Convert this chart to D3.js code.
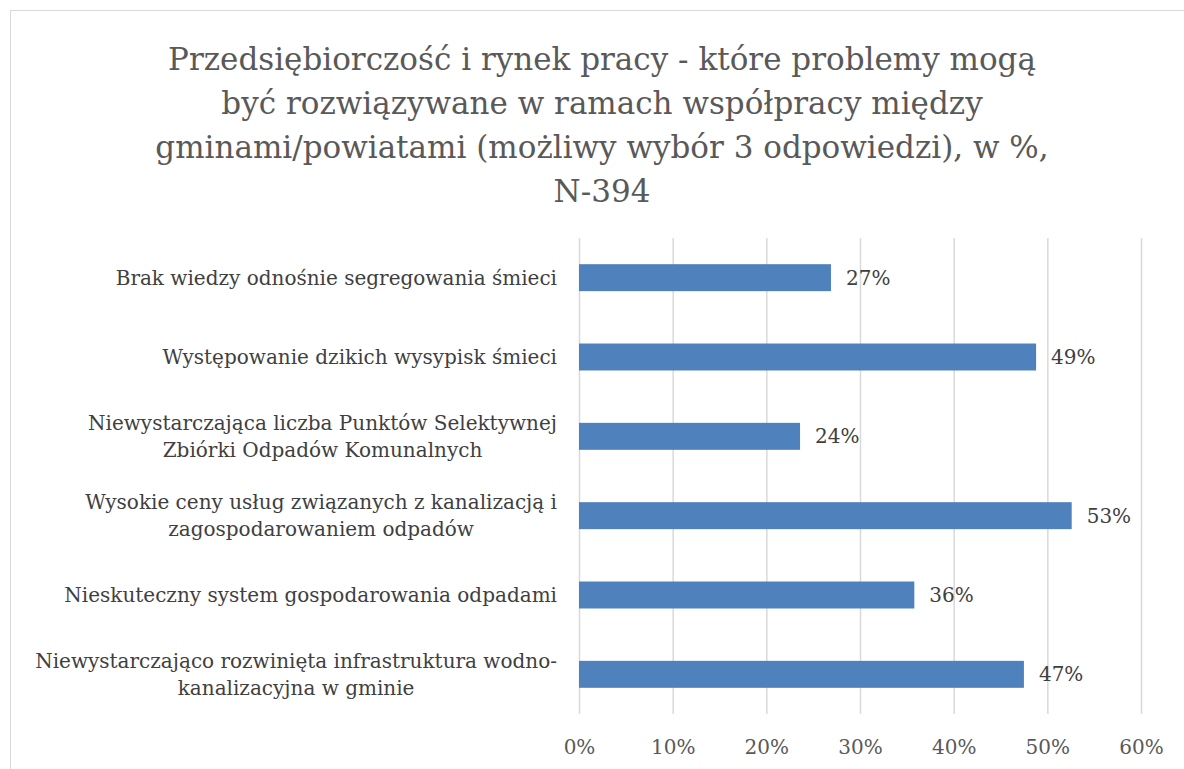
<!DOCTYPE html>
<html>
<head>
<meta charset="utf-8">
<script src="https://cdn.jsdelivr.net/npm/d3@7"></script>
<style>
  body { margin: 0; background: #fff; }
  svg { display: block; }
  text { font-family: "DejaVu Serif", serif; }
</style>
</head>
<body>
<div id="chart"></div>
<script>
// DATA
var categories = [
  ["Brak wiedzy odnośnie segregowania śmieci"],
  ["Występowanie dzikich wysypisk śmieci"],
  ["Niewystarczająca liczba Punktów Selektywnej", "Zbiórki Odpadów Komunalnych"],
  ["Wysokie ceny usług związanych z kanalizacją i", "zagospodarowaniem odpadów"],
  ["Nieskuteczny system gospodarowania odpadami"],
  ["Niewystarczająco rozwinięta infrastruktura wodno-", "kanalizacyjna w gminie"]
];
var values = [26.9, 48.8, 23.6, 52.6, 35.8, 47.5];
var valueLabels = ["27%", "49%", "24%", "53%", "36%", "47%"];
var xTicks = [0, 10, 20, 30, 40, 50, 60];
var titleLines = [
  "Przedsiębiorczość i rynek pracy - które problemy mogą",
  "być rozwiązywane w ramach współpracy między",
  "gminami/powiatami (możliwy wybór 3 odpowiedzi), w %,",
  "N-394"
];

// SET UP CHART
var svgWidth = 1184;
var svgHeight = 769;
var margin = { top: 238, right: 43, bottom: 55, left: 579 };
var chartWidth = svgWidth - margin.left - margin.right;
var chartHeight = svgHeight - margin.top - margin.bottom;

var svg = d3.select("#chart")
  .append("svg")
  .attr("width", svgWidth)
  .attr("height", svgHeight);

// chart area border
svg.append("rect")
  .attr("x", 10.5)
  .attr("y", 10.5)
  .attr("width", svgWidth)
  .attr("height", svgHeight)
  .attr("fill", "none")
  .attr("stroke", "#d9d9d9");

// TITLE
svg.append("g").selectAll("text")
  .data(titleLines)
  .enter()
  .append("text")
  .attr("x", 602)
  .attr("y", (d, i) => 70 + i * 44)
  .attr("text-anchor", "middle")
  .attr("fill", "#595959")
  .style("font-size", "31px")
  .text(d => d);

var chartGroup = svg.append("g")
  .attr("transform", `translate(${margin.left}, ${margin.top})`);

// SCALES
var xScale = d3.scaleLinear()
  .domain([0, 60])
  .range([0, chartWidth]);

var yScale = d3.scaleBand()
  .domain(d3.range(categories.length))
  .range([0, chartHeight])
  .paddingInner(0.66)
  .paddingOuter(0.33);

// GRIDLINES
var xAxis = d3.axisBottom(xScale)
  .tickValues(xTicks)
  .tickSize(-chartHeight)
  .tickFormat(d => d + "%");

var xAxisGroup = chartGroup.append("g")
  .attr("transform", `translate(0, ${chartHeight})`)
  .call(xAxis);

xAxisGroup.select(".domain").remove();
xAxisGroup.selectAll(".tick line")
  .attr("stroke", "#d9d9d9")
  .attr("stroke-width", 1.5);
xAxisGroup.selectAll(".tick text")
  .attr("fill", "#595959")
  .attr("y", 26)
  .style("font-size", "20px");

// BARS
chartGroup.selectAll("rect.bar")
  .data(values)
  .enter()
  .append("rect")
  .attr("class", "bar")
  .attr("x", xScale(0))
  .attr("y", (d, i) => yScale(i))
  .attr("width", d => xScale(d) - xScale(0))
  .attr("height", yScale.bandwidth())
  .attr("fill", "#4f81bd");

// VALUE LABELS
chartGroup.selectAll("text.value")
  .data(values)
  .enter()
  .append("text")
  .attr("class", "value")
  .attr("x", d => xScale(d) + 15)
  .attr("y", (d, i) => yScale(i) + yScale.bandwidth() / 2)
  .attr("dy", "0.35em")
  .attr("fill", "#404040")
  .style("font-size", "20px")
  .text((d, i) => valueLabels[i]);

// CATEGORY LABELS (lines centered within a right-aligned block)
var labelGroups = chartGroup.selectAll("g.cat")
  .data(categories)
  .enter()
  .append("g")
  .attr("class", "cat")
  .attr("transform", (d, i) => `translate(0, ${yScale(i) + yScale.bandwidth() / 2})`);

labelGroups.each(function(lines) {
  var g = d3.select(this);
  var texts = g.selectAll("text")
    .data(lines)
    .enter()
    .append("text")
    .attr("fill", "#404040")
    .attr("text-anchor", "middle")
    .attr("dy", "0.35em")
    .attr("y", (d, i) => (i - (lines.length - 1) / 2) * 27)
    .style("font-size", "20px")
    .text(d => d);
  var maxW = d3.max(texts.nodes(), n => n.getComputedTextLength());
  texts.attr("x", -22 - maxW / 2);
});
</script>
</body>
</html>
